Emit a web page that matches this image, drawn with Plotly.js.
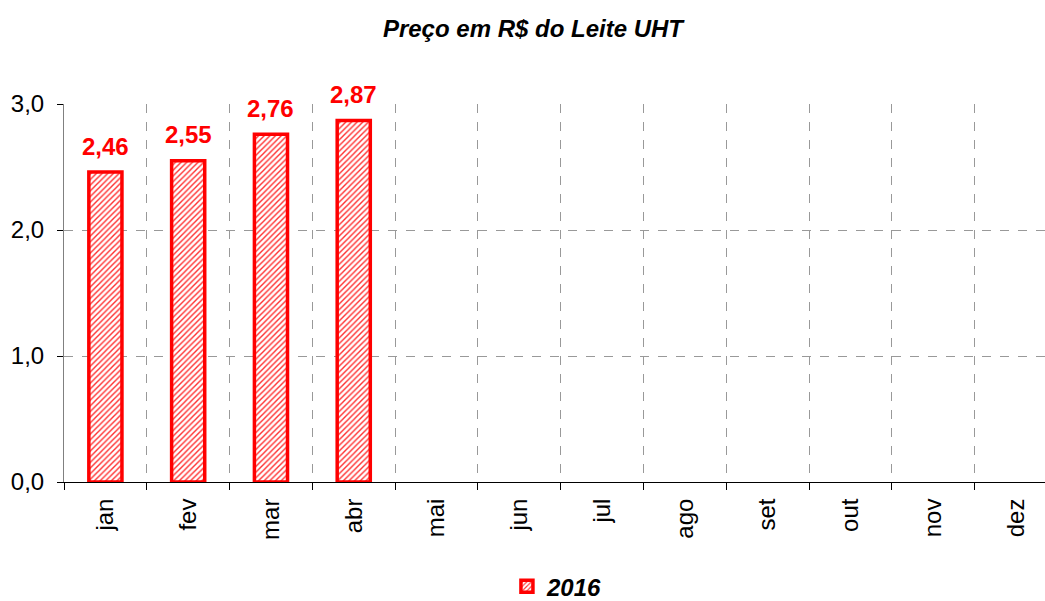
<!DOCTYPE html>
<html><head><meta charset="utf-8">
<script src="https://cdn.plot.ly/plotly-3.0.1.min.js"></script>
<style>body{margin:0;background:#fff}#c{width:1045px;height:601px}</style>
</head><body><div id="c"></div>
<script>
const months = ['jan','fev','mar','abr','mai','jun','jul','ago','set','out','nov','dez'];
const prices2016 = [2.46, 2.55, 2.76, 2.87, null, null, null, null, null, null, null, null];
const seriesName = '2016';
const yTicks = [0, 1, 2, 3];

const trace = {
  type: 'bar', x: months, y: prices2016, name: seriesName,
  width: 0.4,
  marker: {
    color: '#ffffff',
    line: {color: '#ff0000', width: 3.5},
    pattern: {shape: '/', fgcolor: '#ff3030', bgcolor: '#ffffff', size: 4, solidity: 0.35}
  },
  showlegend: true, hoverinfo: 'skip'
};
const annotations = months.map((m, i) => prices2016[i] == null ? null : ({
  x: m, y: prices2016[i], xref: 'x', yref: 'y',
  text: '<b>' + prices2016[i].toFixed(2).replace('.', ',') + '</b>',
  showarrow: false, yanchor: 'middle', yshift: 26,
  font: {family: 'Arial, Liberation Sans', size: 24, color: '#ff0000'}
})).filter(a => a);

const layout = {
  width: 1045, height: 601,
  margin: {l: 64, r: 0, t: 104, b: 119, autoexpand: false},
  separators: ',.',
  paper_bgcolor: '#fff', plot_bgcolor: '#fff',
  font: {family: 'Arial, Liberation Sans', color: '#000'},
  title: {text: '<b><i>Preço em R$ do Leite UHT</i></b>', x: 0.51, xanchor: 'center', y: 0.953, yanchor: 'middle',
          font: {size: 24, color: '#000'}},
  xaxis: {
    type: 'category', tickson: 'boundaries', ticks: 'outside', ticklen: 7, tickcolor: '#000',
    showline: true, linecolor: '#000', linewidth: 1, automargin: false, ticklabelstandoff: 6,
    showgrid: true, gridcolor: '#999', griddash: 'dash', gridwidth: 1,
    tickangle: -90, tickfont: {size: 24}, range: [-0.5, 11.35], fixedrange: true
  },
  yaxis: {
    range: [0, 3], tickvals: yTicks, tickformat: '.1f', ticks: 'outside', ticklen: 6, tickcolor: '#000',
    showline: true, linecolor: '#808080', linewidth: 1, automargin: false, ticklabelstandoff: 8,
    showgrid: true, gridcolor: '#999', griddash: 'dash', gridwidth: 1, zeroline: false,
    tickfont: {size: 24}
  },
  annotations: annotations,
  legend: {orientation: 'h', x: 0.503, xanchor: 'center', yref: 'container', y: 0.024, yanchor: 'middle',
           font: {size: 24, weight: 'bold', style: 'italic'}, itemwidth: 30},
  bargap: 0.6
};
Plotly.newPlot('c', [trace], layout, {displayModeBar: false});
</script></body></html>
